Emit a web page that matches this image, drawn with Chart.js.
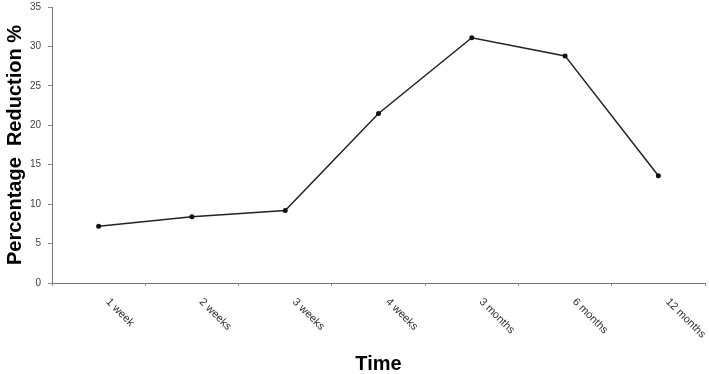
<!DOCTYPE html>
<html>
<head>
<meta charset="utf-8">
<script src="https://cdn.jsdelivr.net/npm/chart.js@4/dist/chart.umd.min.js"></script>
<style>
    html, body { margin: 0; padding: 0; background: #fff; }
    #wrap { width: 709px; height: 374px; }
</style>
</head>
<body>
<div id="wrap"><canvas id="reduction_chart" width="709" height="374"></canvas></div>
<script>
// Chart data
const timeLabels = ['1 week', '2 weeks', '3 weeks', '4 weeks', '3 months', '6 months', '12 months'];
const reductionValues = [7.2, 8.4, 9.2, 21.5, 31.1, 28.8, 13.6];
const yTicks = [0, 5, 10, 15, 20, 25, 30, 35];

const FONT = '"Liberation Sans", Arial, Helvetica, sans-serif';

/**
 * Slanted x labels (text runs down-right from the tick)
 */
const slantedLabels = {
    id: 'slantedLabels',
    afterDraw(chart) {
        const xScale = chart.scales.x;
        const ctx = chart.ctx;
        ctx.save();
        ctx.font = '11px ' + FONT;
        ctx.fillStyle = '#333';
        ctx.textAlign = 'left';
        ctx.textBaseline = 'middle';
        timeLabels.forEach(function(label, i) {
            const x = xScale.getPixelForValue(i);
            ctx.save();
            ctx.translate(x + 9, xScale.top + 17);
            ctx.rotate(Math.PI / 4);
            ctx.fillText(label, 0, 0);
            ctx.restore();
        });
        ctx.restore();
    }
};

function createReductionChart() {
    const ctx = document.getElementById('reduction_chart');
    if (!ctx) return;

    new Chart(ctx, {
        type: 'line',
        data: {
            labels: timeLabels,
            datasets: [{
                label: 'Percentage Reduction %',
                data: reductionValues,
                borderColor: '#222',
                borderWidth: 1.5,
                pointRadius: 2.5,
                pointBackgroundColor: '#111',
                pointBorderWidth: 0,
                tension: 0
            }]
        },
        options: {
            responsive: false,
            animation: false,
            layout: {
                padding: { top: 7, right: 3, bottom: 0, left: 0 }
            },
            plugins: {
                legend: { display: false },
                tooltip: { enabled: false }
            },
            scales: {
                x: {
                    offset: true,
                    afterFit: function(scale) { scale.height = 91; },
                    grid: {
                        display: true,
                        drawOnChartArea: false,
                        drawTicks: true,
                        tickLength: 3,
                        color: '#999',
                        offset: true
                    },
                    border: { display: true, color: '#777', width: 1 },
                    ticks: { display: false },
                    title: {
                        display: true,
                        text: 'Time',
                        color: '#000',
                        font: { family: FONT, size: 20, weight: 'bold' },
                        padding: { top: 0, bottom: -2 }
                    }
                },
                y: {
                    min: 0,
                    max: 35,
                    afterFit: function(scale) {
                        scale.width = 52;
                        scale.paddingTop = 0;
                        scale.paddingBottom = 0;
                    },
                    afterBuildTicks: function(scale) {
                        scale.ticks = yTicks.map(function(v) { return { value: v }; });
                    },
                    grid: {
                        display: true,
                        drawOnChartArea: false,
                        drawTicks: true,
                        tickLength: 4,
                        color: '#888'
                    },
                    border: { display: true, color: '#777', width: 1 },
                    ticks: {
                        padding: 7,
                        color: '#444',
                        font: { family: FONT, size: 10 }
                    },
                    title: {
                        display: true,
                        text: 'Percentage  Reduction %',
                        color: '#000',
                        font: { family: FONT, size: 20, weight: 'bold' },
                        padding: { top: 3, bottom: 0 }
                    }
                }
            }
        },
        plugins: [slantedLabels]
    });
}

createReductionChart();
</script>
</body>
</html>
